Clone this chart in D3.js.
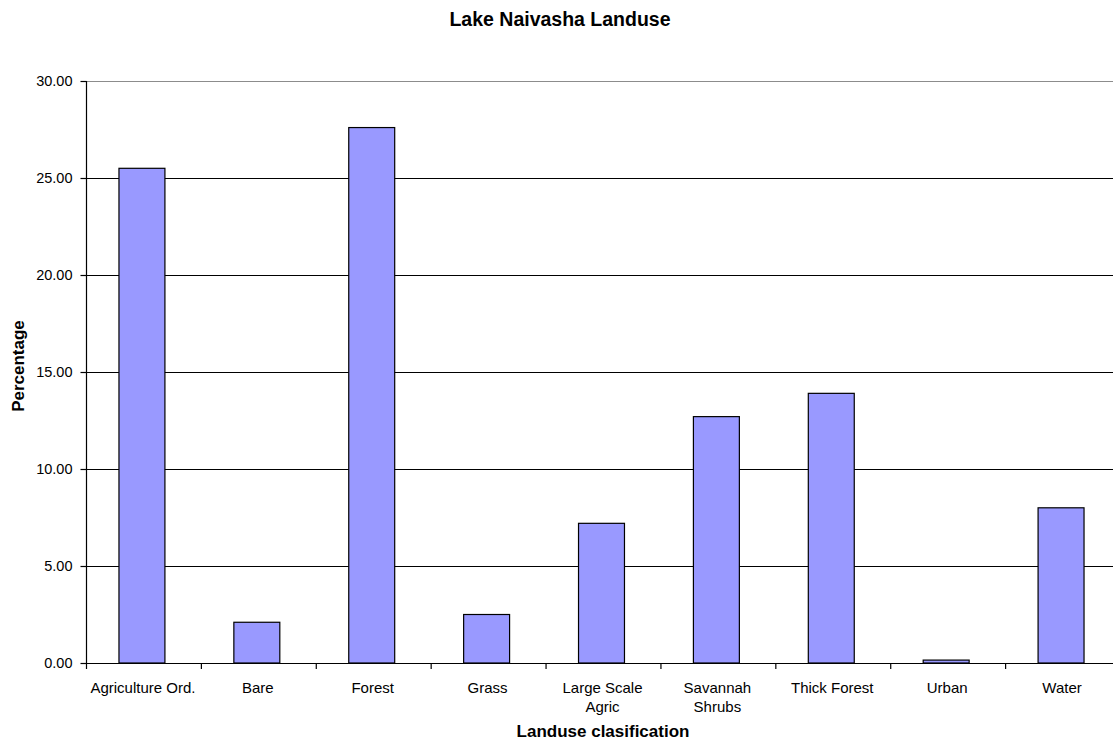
<!DOCTYPE html>
<html>
<head>
<meta charset="utf-8">
<script src="https://cdn.jsdelivr.net/npm/d3@7"></script>
<style>
  html, body { margin: 0; padding: 0; background: #fff; }
  svg { display: block; font-family: "Liberation Sans", Arial, sans-serif; }
</style>
</head>
<body>
<svg id="chart" width="1113" height="742"></svg>
<script>
// Land use classes around Lake Naivasha and their share of the area (%)
const categories = [
  ["Agriculture Ord."],
  ["Bare"],
  ["Forest"],
  ["Grass"],
  ["Large Scale", "Agric"],
  ["Savannah", "Shrubs"],
  ["Thick Forest"],
  ["Urban"],
  ["Water"]
];
const percentages = [25.5, 2.1, 27.6, 2.5, 7.2, 12.7, 13.9, 0.15, 8.0];
const yTicks = [0, 5, 10, 15, 20, 25, 30];

(function draw() {
  const svg = d3.select("#chart");
  const plotLeft = 86, plotRight = 1120, plotTop = 81, plotBottom = 663;

  const keys = categories.map(c => c.join(" "));
  const x = d3.scaleBand().domain(keys).range([plotLeft, plotRight]).paddingInner(0.6).paddingOuter(0.3);
  const xEdges = d3.scaleLinear().domain([0, keys.length]).range([plotLeft, plotRight]);
  const y = d3.scaleLinear().domain([0, 30]).range([plotBottom, plotTop]);

  // horizontal gridlines (the top one is the grey plot-area border)
  svg.append("g")
    .selectAll("line")
    .data(yTicks.filter(t => t > 0))
    .join("line")
    .attr("x1", plotLeft).attr("x2", 1113)
    .attr("y1", d => y(d) + 0.5).attr("y2", d => y(d) + 0.5)
    .attr("stroke", d => d === 30 ? "#8c8c8c" : "#000")
    .attr("stroke-width", 1.2);

  // bars
  svg.append("g")
    .selectAll("rect")
    .data(percentages)
    .join("rect")
    .attr("x", (d, i) => x(keys[i]) - 1.5)
    .attr("y", d => y(d))
    .attr("width", x.bandwidth())
    .attr("height", d => plotBottom - y(d))
    .attr("fill", "#9999ff")
    .attr("stroke", "#000")
    .attr("stroke-width", 1.2);

  // y axis
  const yAxis = d3.axisLeft(y).tickValues(yTicks).tickFormat(d3.format(".2f")).tickSize(6).tickPadding(8);
  const gy = svg.append("g").attr("transform", `translate(${plotLeft + 0.5},0)`).call(yAxis);
  gy.select(".domain").attr("stroke", "#000").attr("stroke-width", 1.2).attr("d", `M0,${plotTop}V${plotBottom}`);
  gy.selectAll(".tick line").attr("stroke", "#000").attr("stroke-width", 1.2);
  gy.selectAll(".tick text").attr("font-size", 14.5).attr("fill", "#000")
    .attr("font-family", "Liberation Sans, Arial, sans-serif");

  // x axis baseline and tick marks at category edges
  const gx = svg.append("g");
  gx.append("line")
    .attr("x1", plotLeft).attr("x2", 1113)
    .attr("y1", plotBottom + 0.5).attr("y2", plotBottom + 0.5)
    .attr("stroke", "#000").attr("stroke-width", 1.2);
  gx.selectAll("line.tk")
    .data(d3.range(keys.length + 1))
    .join("line")
    .attr("class", "tk")
    .attr("x1", d => xEdges(d) + 0.5).attr("x2", d => xEdges(d) + 0.5)
    .attr("y1", plotBottom).attr("y2", plotBottom + 6)
    .attr("stroke", "#000").attr("stroke-width", 1.2);

  // category labels
  const lbl = svg.append("g")
    .selectAll("text")
    .data(categories)
    .join("text")
    .attr("x", (d, i) => (xEdges(i) + xEdges(i + 1)) / 2 - 0.5)
    .attr("y", 693)
    .attr("text-anchor", "middle")
    .attr("font-size", 15)
    .attr("fill", "#000");
  lbl.selectAll("tspan")
    .data(d => d)
    .join("tspan")
    .attr("x", function () { return d3.select(this.parentNode).attr("x"); })
    .attr("dy", (d, i) => i === 0 ? 0 : 19)
    .text(d => d);

  // titles
  svg.append("text")
    .attr("x", 560).attr("y", 26)
    .attr("text-anchor", "middle")
    .attr("font-size", 19.5).attr("font-weight", "bold")
    .text("Lake Naivasha Landuse");

  svg.append("text")
    .attr("x", 603).attr("y", 737)
    .attr("text-anchor", "middle")
    .attr("font-size", 17).attr("font-weight", "bold")
    .text("Landuse clasification");

  svg.append("text")
    .attr("transform", "translate(24,366) rotate(-90)")
    .attr("text-anchor", "middle")
    .attr("font-size", 17).attr("font-weight", "bold")
    .text("Percentage");
})();
</script>
</body>
</html>
